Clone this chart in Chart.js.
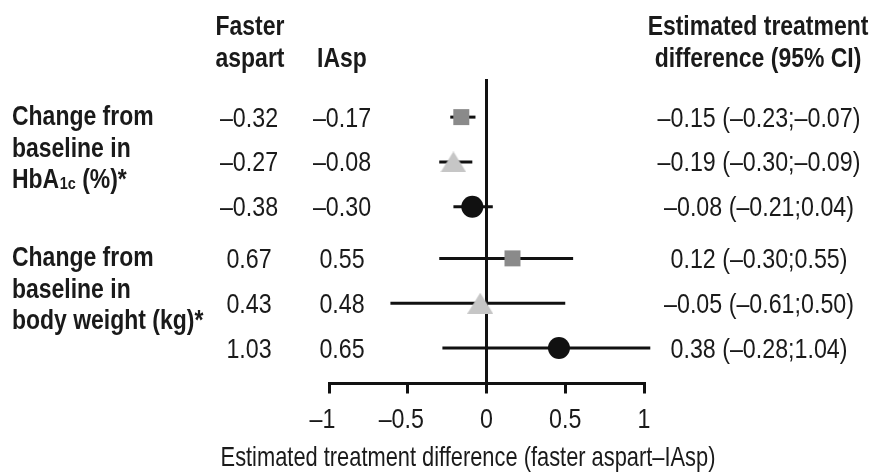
<!DOCTYPE html>
<html><head><meta charset="utf-8">
<script src="https://cdn.jsdelivr.net/npm/chart.js@4.4.1/dist/chart.umd.min.js"></script>
<style>html,body{margin:0;padding:0;background:#fff;}#wrap{width:877px;height:475px;position:relative;}</style>
</head><body><div id="wrap"><canvas id="c" width="877" height="475"></canvas></div>
<script>
// ---- data ----
const rowPos = [1, 2, 3, 4.15, 5.15, 6.15];
const fasterAspart = [-0.32, -0.27, -0.38, 0.67, 0.43, 1.03];
const iAsp = [-0.17, -0.08, -0.30, 0.55, 0.48, 0.65];
const estDiff = [-0.15, -0.19, -0.08, 0.12, -0.05, 0.38];
const ciLow = [-0.23, -0.30, -0.21, -0.30, -0.61, -0.28];
const ciHigh = [-0.07, -0.09, 0.04, 0.55, 0.50, 1.04];
// marker positions as drawn in the figure
const plottedEstimate = [-0.16, -0.21, -0.09, 0.165, -0.04, 0.46];
const markerKinds = ['square', 'triangle', 'circle', 'square', 'triangle', 'circle'];
const xTickValues = [-1, -0.5, 0, 0.5, 1];
const xTickLabels = ['–1', '–0.5', '0', '0.5', '1'];
const groupLabels = [
  ['Change from', 'baseline in', ['HbA', '1c', ' (%)*']],
  ['Change from', 'baseline in', 'body weight (kg)*']
];
const groupFirstRow = [0, 3];
const headerFaster = ['Faster', 'aspart'];
const headerIAsp = ['', 'IAsp'];
const headerDiff = ['Estimated treatment', 'difference (95% CI)'];
const axisTitle = 'Estimated treatment difference (faster aspart–IAsp)';

// ---- styles ----
const kindStyle = {
  square: { style: 'rect', radius: 11.3, color: '#8a8a8a' },
  triangle: { style: null, radius: 13, color: '#c6c6c6' },
  circle: { style: 'circle', radius: 11, color: '#111111' }
};
const triImg = document.createElement('canvas');
triImg.width = 26; triImg.height = 21;
(function () {
  const t = triImg.getContext('2d');
  t.fillStyle = kindStyle.triangle.color;
  t.beginPath(); t.moveTo(13, 0); t.lineTo(26, 21); t.lineTo(0, 21); t.closePath(); t.fill();
})();
kindStyle.triangle.style = triImg;

const fmt = v => (v < 0 ? '–' : '') + Math.abs(v).toFixed(2);
const FONT = '"Liberation Sans", Arial, Helvetica, sans-serif';
const TXT = '#1a1a1a';

function drawText(ctx, txt, x, y, o) {
  o = Object.assign({ weight: 'normal', size: 28, sx: 0.83, align: 'left' }, o || {});
  ctx.save();
  ctx.font = `${o.weight} ${o.size}px ${FONT}`;
  const w = ctx.measureText(txt).width * o.sx;
  const x0 = o.align === 'center' ? x - w / 2 : (o.align === 'right' ? x - w : x);
  ctx.translate(x0, y);
  ctx.scale(o.sx, 1);
  ctx.textAlign = 'left';
  ctx.textBaseline = 'alphabetic';
  ctx.fillStyle = TXT;
  ctx.fillText(txt, 0, 0);
  ctx.restore();
  return w;
}
function textW(ctx, txt, o) {
  ctx.save();
  ctx.font = `${o.weight || 'normal'} ${o.size || 28}px ${FONT}`;
  const w = ctx.measureText(txt).width * (o.sx || 0.83);
  ctx.restore();
  return w;
}

const BOLD = { weight: 'bold', size: 28, sx: 0.82 };
const REG = { weight: 'normal', size: 28, sx: 0.83 };

const textPlugin = {
  id: 'forestText',
  afterDraw(chart) {
    const ctx = chart.ctx;
    const ys = chart.scales.y, xs = chart.scales.x;
    headerFaster.forEach((t, i) => drawText(ctx, t, 250, 35 + 32 * i, Object.assign({ align: 'center' }, BOLD)));
    headerIAsp.forEach((t, i) => t && drawText(ctx, t, 342, 35 + 32 * i, Object.assign({ align: 'center' }, BOLD)));
    headerDiff.forEach((t, i) => drawText(ctx, t, 758, 35 + 32 * i, Object.assign({ align: 'center' }, BOLD)));
    groupLabels.forEach((lines, g) => {
      const y0 = ys.getPixelForValue(rowPos[groupFirstRow[g]]) + 8;
      lines.forEach((ln, j) => {
        const y = y0 + 31.5 * j;
        if (Array.isArray(ln)) {
          let x = 12;
          x += drawText(ctx, ln[0], x, y, BOLD);
          x += drawText(ctx, ln[1], x + 0.5, y + 1, { weight: 'bold', size: 17, sx: 0.85 }) + 0.5;
          drawText(ctx, ln[2], x, y, BOLD);
        } else {
          drawText(ctx, ln, 12, y, BOLD);
        }
      });
    });
    rowPos.forEach((p, i) => {
      const y = ys.getPixelForValue(p) + 9.5;
      drawText(ctx, fmt(fasterAspart[i]), 249, y, Object.assign({ align: 'center' }, REG));
      drawText(ctx, fmt(iAsp[i]), 342, y, Object.assign({ align: 'center' }, REG));
      const s = fmt(estDiff[i]) + ' (' + fmt(ciLow[i]) + ';' + fmt(ciHigh[i]) + ')';
      drawText(ctx, s, 759, y, Object.assign({ align: 'center' }, REG));
    });
    xTickValues.forEach((v, i) => {
      const px = xs.getPixelForValue(v);
      const lab = xTickLabels[i];
      if (lab.startsWith('–')) {
        const rest = lab.slice(1);
        const rw = textW(ctx, rest, REG), dw = textW(ctx, '–', REG);
        drawText(ctx, lab, px - rw / 2 - dw, 428, REG);
      } else {
        drawText(ctx, lab, px, 428, Object.assign({ align: 'center' }, REG));
      }
    });
    drawText(ctx, axisTitle, 468, 466, { weight: 'normal', size: 28, sx: 0.78, align: 'center' });
  }
};

const ciDatasets = rowPos.map((p, i) => ({
  type: 'scatter',
  data: [{ x: ciLow[i], y: p }, { x: ciHigh[i], y: p }],
  showLine: true,
  borderColor: '#111111',
  borderWidth: 3,
  pointRadius: 0,
  clip: false,
  order: 1
}));
const markerDataset = {
  type: 'scatter',
  data: plottedEstimate.map((v, i) => ({ x: v, y: rowPos[i] })),
  pointStyle: markerKinds.map(k => kindStyle[k].style),
  pointRadius: markerKinds.map(k => kindStyle[k].radius),
  backgroundColor: markerKinds.map(k => kindStyle[k].color),
  borderColor: markerKinds.map(k => kindStyle[k].color),
  borderWidth: 0,
  clip: false,
  order: 0
};

new Chart(document.getElementById('c'), {
  type: 'scatter',
  data: { datasets: [...ciDatasets, markerDataset] },
  options: {
    responsive: false,
    animation: false,
    devicePixelRatio: 1,
    layout: { padding: { left: 329, right: 233, top: 79, bottom: 81.5 } },
    plugins: { legend: { display: false }, tooltip: { enabled: false } },
    scales: {
      x: {
        type: 'linear', min: -1, max: 1,
        afterBuildTicks: s => { s.ticks = xTickValues.map(v => ({ value: v })); },
        ticks: { display: false },
        grid: {
          drawOnChartArea: true,
          drawTicks: true,
          tickLength: 10,
          lineWidth: 3,
          tickColor: '#111111',
          color: c => (c.tick && c.tick.value === 0) ? '#111111' : 'rgba(0,0,0,0)'
        },
        border: { display: true, color: '#111111', width: 3 }
      },
      y: {
        type: 'linear', display: false, reverse: true, min: 0.15, max: 6.94
      }
    }
  },
  plugins: [textPlugin]
});
</script>
</body></html>
